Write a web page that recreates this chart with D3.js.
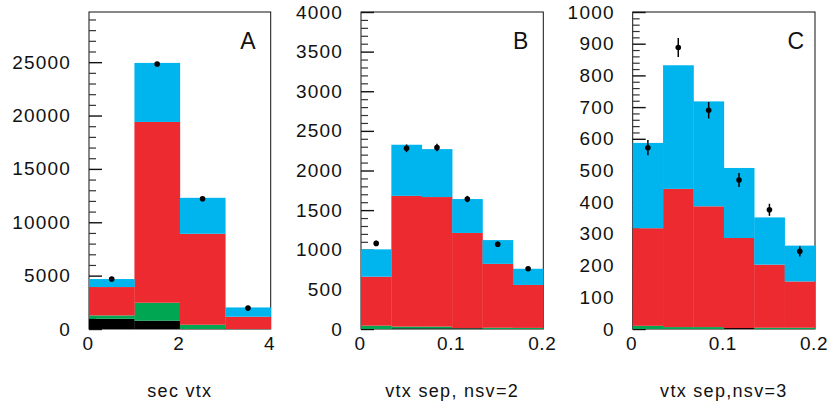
<!DOCTYPE html>
<html><head><meta charset="utf-8">
<script src="https://cdn.jsdelivr.net/npm/d3@7"></script>
<style>
body{margin:0;background:#fff}
svg{display:block}
text{font-family:"Liberation Sans",Arial,Helvetica,sans-serif;fill:#111}
</style>
</head><body>
<svg id="chart" width="827" height="403"></svg>
<script>
// ---------------- DATA ----------------
const layerKeys = ["black", "green", "red", "blue"];

// Panel A : sec vtx
const edgesA = [0, 1, 2, 3, 4];
const blackA = [960, 780, 0, 0];
const greenA = [310, 1680, 400, 0];
const redA   = [2660, 16940, 8520, 1150];
const blueA  = [750, 5530, 3370, 870];
const dataA  = [4680, 24830, 12200, 1960];
const errA   = [68, 157, 110, 44];
const yTicksA = [0, 5000, 10000, 15000, 20000, 25000];
const yMinorA = [1000,2000,3000,4000,6000,7000,8000,9000,11000,12000,13000,14000,16000,17000,18000,19000,21000,22000,23000,24000,26000,27000,28000,29000];
const xTicksA = [0, 2, 4];

// Panel B : vtx sep, nsv=2
const edgesB = [0, 0.0333, 0.0667, 0.1, 0.1333, 0.1667, 0.2];
const blackB = [0, 8, 8, 8, 0, 0];
const greenB = [42, 22, 22, 4, 16, 14];
const redB   = [618, 1650, 1635, 1200, 806, 542];
const blueB  = [345, 645, 605, 428, 300, 204];
const dataB  = [1080, 2280, 2290, 1640, 1070, 760];
const errB   = [33, 48, 48, 40, 33, 28];
const yTicksB = [0, 500, 1000, 1500, 2000, 2500, 3000, 3500, 4000];
const yMinorB = [100,200,300,400,600,700,800,900,1100,1200,1300,1400,1600,1700,1800,1900,2100,2200,2300,2400,2600,2700,2800,2900,3100,3200,3300,3400,3600,3700,3800,3900];
const xTicksB = [0, 0.1, 0.2];

// Panel C : vtx sep,nsv=3
const edgesC = [0, 0.0333, 0.0667, 0.1, 0.1333, 0.1667, 0.2];
const blackC = [0, 0, 0, 3, 0, 0];
const greenC = [10, 6, 6, 0, 4, 4];
const redC   = [308, 436, 381, 284, 199, 146];
const blueC  = [269, 390, 331, 221, 149, 113];
const dataC  = [572, 888, 690, 470, 376, 245];
const errC   = [24, 30, 26, 22, 19, 16];
const yTicksC = [0, 100, 200, 300, 400, 500, 600, 700, 800, 900, 1000];
const yMinorC = [20,40,60,80,120,140,160,180,220,240,260,280,320,340,360,380,420,440,460,480,520,540,560,580,620,640,660,680,720,740,760,780,820,840,860,880,920,940,960,980];
const xTicksC = [0, 0.1, 0.2];

const titles = ["sec vtx", "vtx sep, nsv=2", "vtx sep,nsv=3"];
const letters = ["A", "B", "C"];

// ---------------- STYLE / LAYOUT ----------------
const colors = {black: "#000000", green: "#00a651", red: "#ec2a2f", blue: "#00b5ee"};
const yTop = 12, yBottom = 329;

const panels = [
  {x0: 89,    x1: 270.7, ymax: 29700, edges: edgesA, layers: {black: blackA, green: greenA, red: redA, blue: blueA},
   data: dataA, err: errA, yt: yTicksA, ym: yMinorA, xt: xTicksA, title: titles[0], letter: letters[0], lx: 15},
  {x0: 361,   x1: 543.3, ymax: 4000, edges: edgesB, layers: {black: blackB, green: greenB, red: redB, blue: blueB},
   data: dataB, err: errB, yt: yTicksB, ym: yMinorB, xt: xTicksB, title: titles[1], letter: letters[1], lx: 15},
  {x0: 632.7, x1: 815,   ymax: 1000, edges: edgesC, layers: {black: blackC, green: greenC, red: redC, blue: blueC},
   data: dataC, err: errC, yt: yTicksC, ym: yMinorC, xt: xTicksC, title: titles[2], letter: letters[2], lx: 11}
];

const svg = d3.select("#chart");
svg.append("rect").attr("width", 827).attr("height", 403).attr("fill", "#fff");

panels.forEach(p => {
  const x = d3.scaleLinear().domain([p.edges[0], p.edges[p.edges.length - 1]]).range([p.x0, p.x1]);
  const y = d3.scaleLinear().domain([0, p.ymax]).range([yBottom, yTop]);
  const g = svg.append("g");

  // frame
  g.append("rect").attr("x", p.x0).attr("y", yTop).attr("width", p.x1 - p.x0).attr("height", yBottom - yTop)
    .attr("fill", "none").attr("stroke", "#111").attr("stroke-width", 1);

  // minor ticks
  const minor = d3.axisLeft(y).tickValues(p.ym).tickSize(-7).tickFormat("");
  const gm = g.append("g").attr("transform", `translate(${p.x0},0)`).call(minor);
  gm.select(".domain").remove();
  gm.selectAll("line").attr("stroke", "#333").attr("stroke-width", 1.2);

  // major ticks + labels
  const major = d3.axisLeft(y).tickValues(p.yt).tickSize(-13).tickPadding(18).tickFormat(d3.format("d"));
  const ga = g.append("g").attr("transform", `translate(${p.x0},0)`).call(major);
  ga.select(".domain").remove();
  ga.selectAll("line").attr("stroke", "#111").attr("stroke-width", 1.4);
  ga.selectAll("text").attr("font-size", 19).attr("letter-spacing", "1.2px")
    .attr("font-family", "Liberation Sans, Arial, sans-serif").attr("fill", "#111");

  // stacked histograms
  const rows = p.edges.slice(0, -1).map((e, i) => {
    const r = {lo: e, hi: p.edges[i + 1]};
    layerKeys.forEach(k => r[k] = p.layers[k][i]);
    return r;
  });
  const stacked = d3.stack().keys(layerKeys)(rows);
  stacked.forEach(layer => {
    g.append("g").selectAll("rect").data(layer).join("rect")
      .attr("x", d => x(d.data.lo))
      .attr("width", d => x(d.data.hi) - x(d.data.lo) + 0.3)
      .attr("y", d => y(d[1]))
      .attr("height", d => Math.max(0, y(d[0]) - y(d[1])))
      .attr("fill", colors[layer.key]);
  });

  // x axis labels
  const xa = d3.axisBottom(x).tickValues(p.xt).tickSize(0).tickPadding(8).tickFormat(d3.format("~g"));
  const gx = g.append("g").attr("transform", `translate(0,${yBottom})`).call(xa);
  gx.select(".domain").remove();
  gx.selectAll("text").attr("font-size", 19).attr("letter-spacing", "0.6px").attr("dx", -1.5)
    .attr("font-family", "Liberation Sans, Arial, sans-serif").attr("fill", "#111");

  // data points with errors
  const pts = p.data.map((v, i) => ({cx: (p.edges[i] + p.edges[i + 1]) / 2, v: v, e: p.err[i]}));
  g.append("g").selectAll("line").data(pts).join("line")
    .attr("x1", d => x(d.cx)).attr("x2", d => x(d.cx))
    .attr("y1", d => y(d.v - d.e)).attr("y2", d => y(d.v + d.e))
    .attr("stroke", "#000").attr("stroke-width", 1.5);
  g.append("g").selectAll("circle").data(pts).join("circle")
    .attr("cx", d => x(d.cx)).attr("cy", d => y(d.v)).attr("r", 2.8).attr("fill", "#000");

  // panel letter
  g.append("text").attr("x", p.x1 - p.lx).attr("y", 48.5).attr("text-anchor", "end")
    .attr("font-size", 23).text(p.letter);

  // axis title
  g.append("text").attr("x", (p.x0 + p.x1) / 2).attr("y", 397).attr("text-anchor", "middle")
    .attr("font-size", 18).attr("letter-spacing", "1.3px").text(p.title);
});
</script>
</body></html>
